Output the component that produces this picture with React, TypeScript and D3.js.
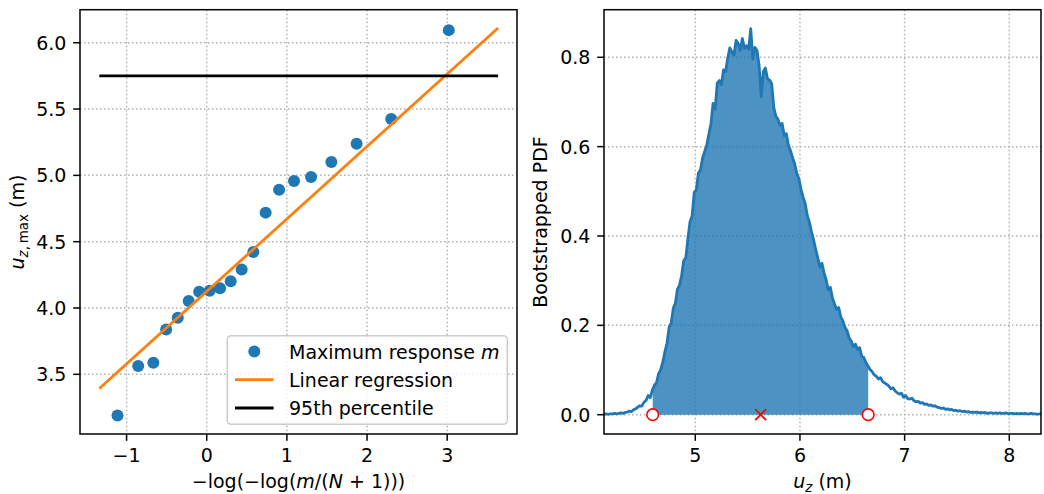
import * as d3 from "d3";
import { useEffect, useRef } from "react";

// left panel: Gumbel plot of the maxima
const reducedVariate = [
  -1.113, -0.855, -0.666, -0.506, -0.361, -0.225, -0.094, 0.036, 0.166, 0.299,
  0.436, 0.581, 0.735, 0.903, 1.089, 1.302, 1.555, 1.870, 2.302, 3.020,
];
const maxResponse = [
  3.19, 3.562, 3.587, 3.837, 3.926, 4.053, 4.123, 4.13, 4.148, 4.201,
  4.291, 4.423, 4.719, 4.892, 4.958, 4.988, 5.101, 5.239, 5.425, 6.095,
];
const lineXRange = [-1.34, 3.635];
const regSlope = 0.5465;
const regIntercept = 4.125;
const percentile95 = 5.75;
const leftXTicks = [-1, 0, 1, 2, 3];
const leftYTicks = [3.5, 4.0, 4.5, 5.0, 5.5, 6.0];

// right panel: bootstrapped pdf, sampled every 0.02 m from 4.13 m
const pdfStart = 4.13;
const pdfStep = 0.02;
const pdfValues = [
  0.001, 0.002, 0.001, 0.002, 0.002, 0.003, 0.002, 0.003, 0.004, 0.003,
  0.005, 0.006, 0.008, 0.007, 0.011, 0.013, 0.017, 0.020, 0.019, 0.028,
  0.032, 0.043, 0.038, 0.055, 0.066, 0.072, 0.092, 0.101, 0.118, 0.141,
  0.160, 0.196, 0.205, 0.238, 0.250, 0.281, 0.290, 0.312, 0.345, 0.352,
  0.395, 0.432, 0.445, 0.498, 0.503, 0.541, 0.548, 0.575, 0.589, 0.604,
  0.628, 0.652, 0.697, 0.684, 0.742, 0.748, 0.739, 0.772, 0.768, 0.798,
  0.821, 0.812, 0.805, 0.838, 0.831, 0.815, 0.842, 0.820, 0.826, 0.818,
  0.864, 0.796, 0.822, 0.815, 0.782, 0.712, 0.768, 0.776, 0.752, 0.749,
  0.741, 0.688, 0.668, 0.661, 0.648, 0.652, 0.625, 0.629, 0.603, 0.591,
  0.575, 0.561, 0.540, 0.528, 0.505, 0.487, 0.473, 0.446, 0.431, 0.410,
  0.392, 0.370, 0.352, 0.331, 0.339, 0.318, 0.302, 0.280, 0.285, 0.262,
  0.248, 0.236, 0.240, 0.219, 0.210, 0.196, 0.188, 0.172, 0.165, 0.152,
  0.158, 0.146, 0.150, 0.131, 0.128, 0.117, 0.109, 0.101, 0.096, 0.089,
  0.086, 0.080, 0.083, 0.074, 0.071, 0.068, 0.064, 0.058, 0.060, 0.053,
  0.049, 0.046, 0.048, 0.039, 0.043, 0.036, 0.035, 0.037, 0.031, 0.029,
  0.030, 0.026, 0.027, 0.023, 0.024, 0.021, 0.022, 0.019, 0.020, 0.017,
  0.016, 0.014, 0.015, 0.012, 0.013, 0.011, 0.012, 0.009, 0.010, 0.008,
  0.009, 0.007, 0.008, 0.006, 0.007, 0.005, 0.006, 0.005, 0.006, 0.004,
  0.005, 0.004, 0.005, 0.003, 0.004, 0.004, 0.003, 0.004, 0.003, 0.004,
  0.003, 0.003, 0.004, 0.002, 0.003, 0.003, 0.002, 0.003, 0.002, 0.003,
  0.002, 0.003, 0.002, 0.002, 0.003, 0.002, 0.002, 0.001, 0.002, 0.002,
];
const ciLow = 4.593;
const ciHigh = 6.652;
const bestEstimate = 5.625;
const rightXTicks = [5, 6, 7, 8];
const rightYTicks = [0, 0.2, 0.4, 0.6, 0.8];

const BLUE = "#1f77b4";
const ORANGE = "#ff7f0e";
const FONT = "DejaVu Sans, sans-serif";
const FS = 19;
const TOP = 9.7;
const BOTTOM = 434;

export default function App() {
  const ref = useRef<SVGSVGElement>(null);

  useEffect(() => {
    const svg = d3.select(ref.current);
    svg.selectAll("*").remove();

    const fmt = (d: number) => (d < 0 ? "\u2212" + Math.abs(d) : String(d));

    const xL = d3.scaleLinear().domain([-1.581, 3.871]).range([80, 517]);
    const yL = d3.scaleLinear().domain([3.05, 6.249]).range([BOTTOM, TOP]);
    const xR = d3.scaleLinear().domain([4.128, 8.303]).range([604, 1041]);
    const yR = d3.scaleLinear().domain([-0.0432, 0.9065]).range([BOTTOM, TOP]);

    const defs = svg.append("defs");
    defs.append("clipPath").attr("id", "clipL").append("rect")
      .attr("x", 80).attr("y", TOP).attr("width", 437).attr("height", BOTTOM - TOP);
    defs.append("clipPath").attr("id", "clipR").append("rect")
      .attr("x", 604).attr("y", TOP).attr("width", 437).attr("height", BOTTOM - TOP);
    defs.append("clipPath").attr("id", "clipCI").append("rect")
      .attr("x", xR(ciLow)).attr("y", 0).attr("width", xR(ciHigh) - xR(ciLow)).attr("height", 494);

    function grid(x: any, y: any, xt: number[], yt: number[]) {
      const g = svg.append("g").attr("stroke", "#b0b0b0").attr("stroke-width", 1.5)
        .attr("stroke-dasharray", "1.5,2.5");
      const [x0, x1] = x.range();
      g.selectAll(".gx").data(xt).join("line")
        .attr("x1", (d: number) => x(d)).attr("x2", (d: number) => x(d))
        .attr("y1", TOP).attr("y2", BOTTOM);
      g.selectAll(".gy").data(yt).join("line")
        .attr("y1", (d: number) => y(d)).attr("y2", (d: number) => y(d))
        .attr("x1", x0).attr("x2", x1);
    }

    function frame(x: any, y: any, xt: number[], yt: number[], xf: any, yf: any) {
      const [x0, x1] = x.range();
      const g = svg.append("g");
      g.append("rect").attr("x", x0).attr("y", TOP).attr("width", x1 - x0)
        .attr("height", BOTTOM - TOP).attr("fill", "none")
        .attr("stroke", "#000").attr("stroke-width", 1.5);
      g.selectAll(".tx").data(xt).join("line")
        .attr("x1", (d: number) => x(d)).attr("x2", (d: number) => x(d))
        .attr("y1", BOTTOM).attr("y2", BOTTOM + 6.8)
        .attr("stroke", "#000").attr("stroke-width", 1.5);
      g.selectAll(".lx").data(xt).join("text")
        .attr("x", (d: number) => x(d)).attr("y", 461.7)
        .attr("text-anchor", "middle").attr("font-size", FS).attr("font-family", FONT)
        .text(xf);
      g.selectAll(".ty").data(yt).join("line")
        .attr("y1", (d: number) => y(d)).attr("y2", (d: number) => y(d))
        .attr("x1", x0).attr("x2", x0 - 6.8)
        .attr("stroke", "#000").attr("stroke-width", 1.5);
      g.selectAll(".ly").data(yt).join("text")
        .attr("x", x0 - 13.6).attr("y", (d: number) => y(d) + 7)
        .attr("text-anchor", "end").attr("font-size", FS).attr("font-family", FONT)
        .text(yf);
    }

    // ---------- left panel ----------
    grid(xL, yL, leftXTicks, leftYTicks);
    const pl = svg.append("g").attr("clip-path", "url(#clipL)");
    pl.selectAll("circle").data(reducedVariate).join("circle")
      .attr("cx", (d) => xL(d)).attr("cy", (_, i) => yL(maxResponse[i]))
      .attr("r", 6).attr("fill", BLUE);
    pl.append("line")
      .attr("x1", xL(lineXRange[0])).attr("y1", yL(regIntercept + regSlope * lineXRange[0]))
      .attr("x2", xL(lineXRange[1])).attr("y2", yL(regIntercept + regSlope * lineXRange[1]))
      .attr("stroke", ORANGE).attr("stroke-width", 2.8);
    pl.append("line")
      .attr("x1", xL(lineXRange[0])).attr("x2", xL(lineXRange[1]))
      .attr("y1", yL(percentile95)).attr("y2", yL(percentile95))
      .attr("stroke", "#000").attr("stroke-width", 2.8);
    frame(xL, yL, leftXTicks, leftYTicks, fmt, (d: number) => d.toFixed(1));

    // legend
    const lg = svg.append("g").attr("font-family", FONT).attr("font-size", FS);
    lg.append("rect").attr("x", 227.3).attr("y", 335.7).attr("width", 280).attr("height", 88.6)
      .attr("rx", 4).attr("fill", "#fff").attr("fill-opacity", 0.8)
      .attr("stroke", "#cccccc").attr("stroke-width", 1.5);
    const rows = [351.6, 379.7, 408];
    lg.append("circle").attr("cx", 254.3).attr("cy", rows[0]).attr("r", 6).attr("fill", BLUE);
    lg.append("line").attr("x1", 235).attr("x2", 273.6).attr("y1", rows[1]).attr("y2", rows[1])
      .attr("stroke", ORANGE).attr("stroke-width", 2.8);
    lg.append("line").attr("x1", 235).attr("x2", 273.6).attr("y1", rows[2]).attr("y2", rows[2])
      .attr("stroke", "#000").attr("stroke-width", 2.8);
    const t0 = lg.append("text").attr("x", 289).attr("y", rows[0] + 7);
    t0.append("tspan").text("Maximum response ");
    t0.append("tspan").attr("font-style", "italic").text("m");
    lg.append("text").attr("x", 289).attr("y", rows[1] + 7).text("Linear regression");
    lg.append("text").attr("x", 289).attr("y", rows[2] + 7).text("95th percentile");

    // left labels
    const xl = svg.append("text").attr("x", 298.5).attr("y", 488)
      .attr("text-anchor", "middle").attr("font-family", FONT).attr("font-size", FS);
    xl.append("tspan").text("\u2212log(\u2212log(");
    xl.append("tspan").attr("font-style", "italic").text("m");
    xl.append("tspan").text("/(");
    xl.append("tspan").attr("font-style", "italic").text("N");
    xl.append("tspan").text(" + 1)))");

    const yl = svg.append("text").attr("transform", "translate(23.5,222) rotate(-90)")
      .attr("text-anchor", "middle").attr("font-family", FONT).attr("font-size", FS);
    yl.append("tspan").attr("font-style", "italic").text("u");
    yl.append("tspan").attr("font-style", "italic").attr("font-size", 13.5).attr("dy", 4).text("z");
    yl.append("tspan").attr("font-size", 13.5).text(",\u2009max");
    yl.append("tspan").attr("dy", -4).text(" (m)");

    // ---------- right panel ----------
    grid(xR, yR, rightXTicks, rightYTicks);
    const pr = svg.append("g").attr("clip-path", "url(#clipR)");
    const pts: [number, number][] = pdfValues.map((v, i) => [pdfStart + i * pdfStep, v]);
    const area = d3.area<[number, number]>()
      .x((d) => xR(d[0])).y0(yR(0)).y1((d) => yR(d[1]));
    pr.append("g").attr("clip-path", "url(#clipCI)").append("path")
      .attr("d", area(pts)).attr("fill", BLUE).attr("fill-opacity", 0.8);
    const line = d3.line<[number, number]>().x((d) => xR(d[0])).y((d) => yR(d[1]));
    pr.append("path").attr("d", line(pts)).attr("fill", "none")
      .attr("stroke", BLUE).attr("stroke-width", 2.8).attr("stroke-linejoin", "round");

    [ciLow, ciHigh].forEach((c) => {
      pr.append("circle").attr("cx", xR(c)).attr("cy", yR(0)).attr("r", 5.8)
        .attr("fill", "#fff").attr("stroke", "red").attr("stroke-width", 1.6);
    });
    const bx = xR(bestEstimate);
    const by = yR(0);
    pr.append("path")
      .attr("d", `M${bx - 5.5},${by - 5.5}L${bx + 5.5},${by + 5.5}M${bx - 5.5},${by + 5.5}L${bx + 5.5},${by - 5.5}`)
      .attr("stroke", "red").attr("stroke-width", 1.8);
    frame(xR, yR, rightXTicks, rightYTicks, String, (d: number) => d.toFixed(1));

    const xr = svg.append("text").attr("x", 822.5).attr("y", 488)
      .attr("text-anchor", "middle").attr("font-family", FONT).attr("font-size", FS);
    xr.append("tspan").attr("font-style", "italic").text("u");
    xr.append("tspan").attr("font-style", "italic").attr("font-size", 13.5).attr("dy", 4).text("z");
    xr.append("tspan").attr("dy", -4).text(" (m)");

    svg.append("text").attr("transform", "translate(546.5,222) rotate(-90)")
      .attr("text-anchor", "middle").attr("font-family", FONT).attr("font-size", FS)
      .text("Bootstrapped PDF");
  }, []);

  return (
    <svg
      ref={ref}
      width={1044}
      height={494}
      style={{ position: "absolute", left: 0, top: 0, background: "#fff" }}
    />
  );
}
